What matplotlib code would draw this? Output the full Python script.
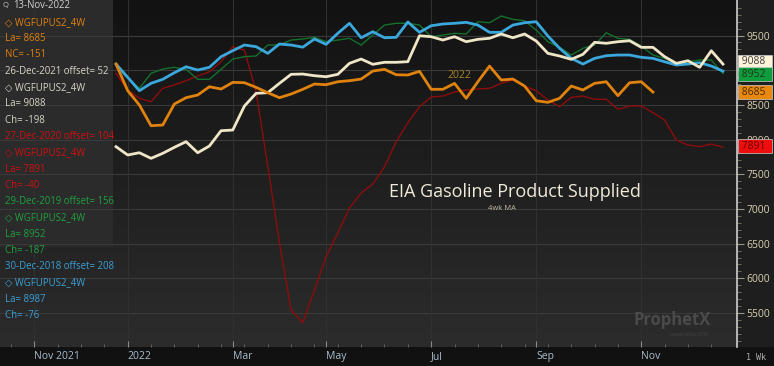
import numpy as np
import pandas as pd
import matplotlib
matplotlib.use('Agg')
from matplotlib import pyplot as plt
from matplotlib.patches import Rectangle
import matplotlib.transforms as mtransforms

plt.rcParams['font.family'] = ['Open Sans', 'DejaVu Sans']

# weekly dates, 26-Dec-2021 .. 25-Dec-2022
dates = pd.date_range('2021-12-26', periods=53, freq='W-SUN')

# 2022 (current, 13-Nov-2022)
y2022 = [9089, 8705, 8499, 8200, 8210, 8513, 8604, 8643, 8762, 8729, 8825, 8820,
         8753, 8676, 8604, 8657, 8725, 8801, 8791, 8834, 8849, 8873, 8988, 9013,
         8935, 8931, 8984, 8725, 8725, 8810, 8595, 8834, 9060, 8859, 8873, 8772,
         8560, 8537, 8595, 8772, 8715, 8811, 8834, 8633, 8820, 8834, 8685]
# 2021 (offset 52)
y2021 = [7898, 7778, 7811, 7730, 7802, 7889, 7970, 7811, 7908, 8128, 8138, 8484,
         8667, 8676, 8811, 8941, 8945, 8921, 8906, 8941, 9099, 9161, 9085, 9114,
         9114, 9123, 9497, 9483, 9435, 9483, 9411, 9445, 9460, 9522, 9468, 9522,
         9421, 9243, 9205, 9157, 9229, 9402, 9388, 9411, 9425, 9330, 9330, 9195,
         9099, 9137, 9042, 9281, 9088]
# 2020 (offset 104)
y2020 = [8955, 8715, 8595, 8546, 8739, 8787, 8849, 8916, 8978, 9122, 9339, 9291,
         8686, 7620, 6510, 5544, 5361, 5833, 6313, 6654, 7014, 7230, 7360, 7609,
         7970, 8243, 8474, 8614, 8628, 8686, 8715, 8729, 8739, 8811, 8859, 8772,
         8705, 8571, 8474, 8609, 8628, 8581, 8581, 8437, 8484, 8484, 8388, 8282,
         7994, 7922, 7898, 7936, 7891]
# 2019 (offset 156)
y2019 = [9060, 8883, 8739, 8955, 9017, 9042, 9013, 8869, 8869, 9013, 9161, 9195,
         9205, 9363, 9363, 9435, 9450, 9474, 9411, 9435, 9460, 9363, 9507, 9651,
         9676, 9676, 9651, 9483, 9507, 9532, 9522, 9699, 9684, 9781, 9733, 9713,
         9579, 9411, 9330, 9219, 9316, 9363, 9540, 9460, 9445, 9349, 9219, 9171,
         9089, 9122, 9147, 9147, 8952]
# 2018 (offset 208)
y2018 = [9089, 8898, 8705, 8811, 8869, 8964, 9050, 9003, 9042, 9195, 9281, 9363,
         9339, 9243, 9378, 9363, 9332, 9450, 9373, 9532, 9676, 9468, 9555, 9468,
         9474, 9695, 9546, 9641, 9666, 9676, 9690, 9651, 9546, 9546, 9651, 9684,
         9699, 9493, 9316, 9171, 9089, 9171, 9209, 9219, 9219, 9186, 9171, 9122,
         9075, 9089, 9108, 9060, 8987]

tick_dates = ['2021-11-07', '2022-01-02', '2022-03-06', '2022-05-01',
              '2022-07-03', '2022-09-04', '2022-11-06']
tick_labels = ['Nov 2021', '2022', 'Mar', 'May', 'Jul', 'Sep', 'Nov']

y_ticks = [5500, 6000, 6500, 7000, 7500, 8000, 8500, 9000, 9500]
y_labels = ['5500', '6000', '6500', '7000', '7500', '8000', '8500', '', '9500']  # 9000 sits under the value boxes

legend_lines = [
    ('13-Nov-2022', '#d0d0d0'),
    ('\u25c7 WGFUPUS2_4W', '#e0800e'),
    ('La= 8685', '#e0800e'),
    ('NC= -151', '#e0800e'),
    ('26-Dec-2021 offset= 52', '#d8d4c8'),
    ('\u25c7 WGFUPUS2_4W', '#d8d4c8'),
    ('La= 9088', '#d8d4c8'),
    ('Ch= -198', '#d8d4c8'),
    ('27-Dec-2020 offset= 104', '#d01010'),
    ('\u25c7 WGFUPUS2_4W', '#d01010'),
    ('La= 7891', '#d01010'),
    ('Ch= -40', '#d01010'),
    ('29-Dec-2019 offset= 156', '#20a040'),
    ('\u25c7 WGFUPUS2_4W', '#20a040'),
    ('La= 8952', '#20a040'),
    ('Ch= -187', '#20a040'),
    ('30-Dec-2018 offset= 208', '#3aa0d8'),
    ('\u25c7 WGFUPUS2_4W', '#3aa0d8'),
    ('La= 8987', '#3aa0d8'),
    ('Ch= -76', '#3aa0d8'),
]

# ---------- figure ----------
W, H = 774, 366
fig = plt.figure(figsize=(W / 100, H / 100), dpi=100, facecolor='#111111')
ax = fig.add_axes([0, 19 / H, 737 / W, 347 / H])
ax.set_facecolor('#1a1a1a')

# right axis column (behind the axes)
fig.patches.append(Rectangle((737 / W, 19 / H), 37 / W, 347 / H, transform=fig.transFigure,
                             facecolor='#1e1e1e', edgecolor='none', zorder=-5))

x0 = dates[0] - pd.Timedelta(days=7 * 9.94)
x1 = dates[0] + pd.Timedelta(days=7 * 53.2)
ax.set_xlim(x0, x1)
ax.set_ylim(5011, 10012)

# gradient background, dark at top
grad = np.linspace(0, 1, 256).reshape(-1, 1)
cmap = matplotlib.colors.LinearSegmentedColormap.from_list('bg', ['#121212', '#2c2c2c'])
ax.imshow(grad, cmap=cmap, aspect='auto', extent=[0, 1, 0, 1], origin='upper',
          transform=ax.transAxes, zorder=0)

# legend panel
ax.add_patch(Rectangle((0, (347 - 247) / 347), 113 / 737, 247 / 347, transform=ax.transAxes,
                       facecolor='#2b2b2b', edgecolor='none', zorder=1))

# grid
for v in y_ticks:
    ax.axhline(v, color='#3a3a3a', lw=0.8, zorder=1)
for d in tick_dates:
    ax.axvline(pd.Timestamp(d), color='#303030', lw=0.8, zorder=1)

# series
ax.plot(dates, y2020, color='#8e0c0c', lw=1.0, zorder=3)
ax.plot(dates, y2019, color='#14702c', lw=1.0, zorder=3)
ax.plot(dates, y2018, color='#3aa8dc', lw=2.0, zorder=4)
ax.plot(dates, y2021, color='#efe6c8', lw=2.0, zorder=4)
ax.plot(dates[:len(y2022)], y2022, color='#e0820e', lw=2.0, zorder=5)

# axes styling
for s in ['top', 'left', 'bottom']:
    ax.spines[s].set_visible(False)
ax.spines['right'].set_color('#d0d0d0')
ax.spines['right'].set_linewidth(1.2)
ax.yaxis.tick_right()
ax.set_yticks(y_ticks)
ax.set_yticklabels(y_labels)
ax.set_yticks(range(5100, 10000, 100), minor=True)
ax.tick_params(axis='y', which='major', colors='#9a9484', length=5, width=0.8,
               labelsize=7.5, labelcolor='#d8d0b0', pad=2)
ax.tick_params(axis='y', which='minor', colors='#7a7468', length=3, width=0.6)

ax.set_xticks([pd.Timestamp(d) for d in tick_dates])
ax.set_xticklabels(tick_labels)
ax.set_xticks(pd.date_range('2021-10-24', '2022-12-31', freq='2W-SUN'), minor=True)
ax.tick_params(axis='x', which='major', direction='in', colors='#8a8a8a', length=4,
               labelsize=7.5, labelcolor='#a8bccc', pad=3)
ax.tick_params(axis='x', which='minor', direction='in', colors='#6a6a6a', length=2)
for lab in ax.get_xticklabels():
    lab.set_horizontalalignment('left')

# last-value boxes
tr = mtransforms.blended_transform_factory(ax.transAxes, ax.transData)
boxes = [(9120, '9088', '#fdf3d8', '#404040'),
         (8945, '8952', '#0e9c3c', '#1a3a1a'),
         (8685, '8685', '#e8880e', '#4a2a00'),
         (7905, '7891', '#ee0e0e', '#6a0000')]
for v, txt, fc, tc in boxes:
    ax.text(1.003, v, ' ' + txt + '  ', transform=tr, fontsize=7.5, color=tc, va='center',
            ha='left', zorder=10, clip_on=False,
            bbox=dict(boxstyle='square,pad=0.12', facecolor=fc, edgecolor='#cccccc', lw=0.5))

# texts
ax.text(0.699, 0.447, 'EIA Gasoline Product Supplied', transform=ax.transAxes,
        fontsize=13, color='#f0ead8', ha='center', va='center', zorder=6)
ax.text(0.681, 0.398, '4wk MA', transform=ax.transAxes,
        fontsize=5.5, color='#c0b8a8', ha='center', va='center', zorder=6)
ax.text(dates[29] + pd.Timedelta(days=3), 8930, '2022', fontsize=7.5, color='#a8862c',
        ha='center', va='center', zorder=6)
ax.text(0.912, 0.078, 'ProphetX', transform=ax.transAxes, fontsize=12, fontweight='bold',
        color='#4a4a4a', ha='center', va='center', zorder=2)
ax.text(0.935, 0.036, 'powered by DTN', transform=ax.transAxes, fontsize=3.5,
        color='#444444', ha='center', va='center', zorder=2)

# legend text
ax.text(3 / 737, 1 - 6 / 347, 'Q', transform=ax.transAxes, fontsize=5.5,
        color='#c0c0c0', va='center', ha='left', zorder=6)
for k, (txt, col) in enumerate(legend_lines):
    xpos = 13 if k == 0 else 5
    ax.text(xpos / 737, 1 - (6 + 16.3 * k) / 347, txt, transform=ax.transAxes, fontsize=6.9,
            color=col, va='center', ha='left', zorder=6)

fig.text(756 / W, 9 / H, '1 Wk', fontsize=6, color='#b0b0b0', family='DejaVu Sans Mono',
         ha='center', va='center')

fig.savefig('out.png', dpi=100, facecolor=fig.get_facecolor())
